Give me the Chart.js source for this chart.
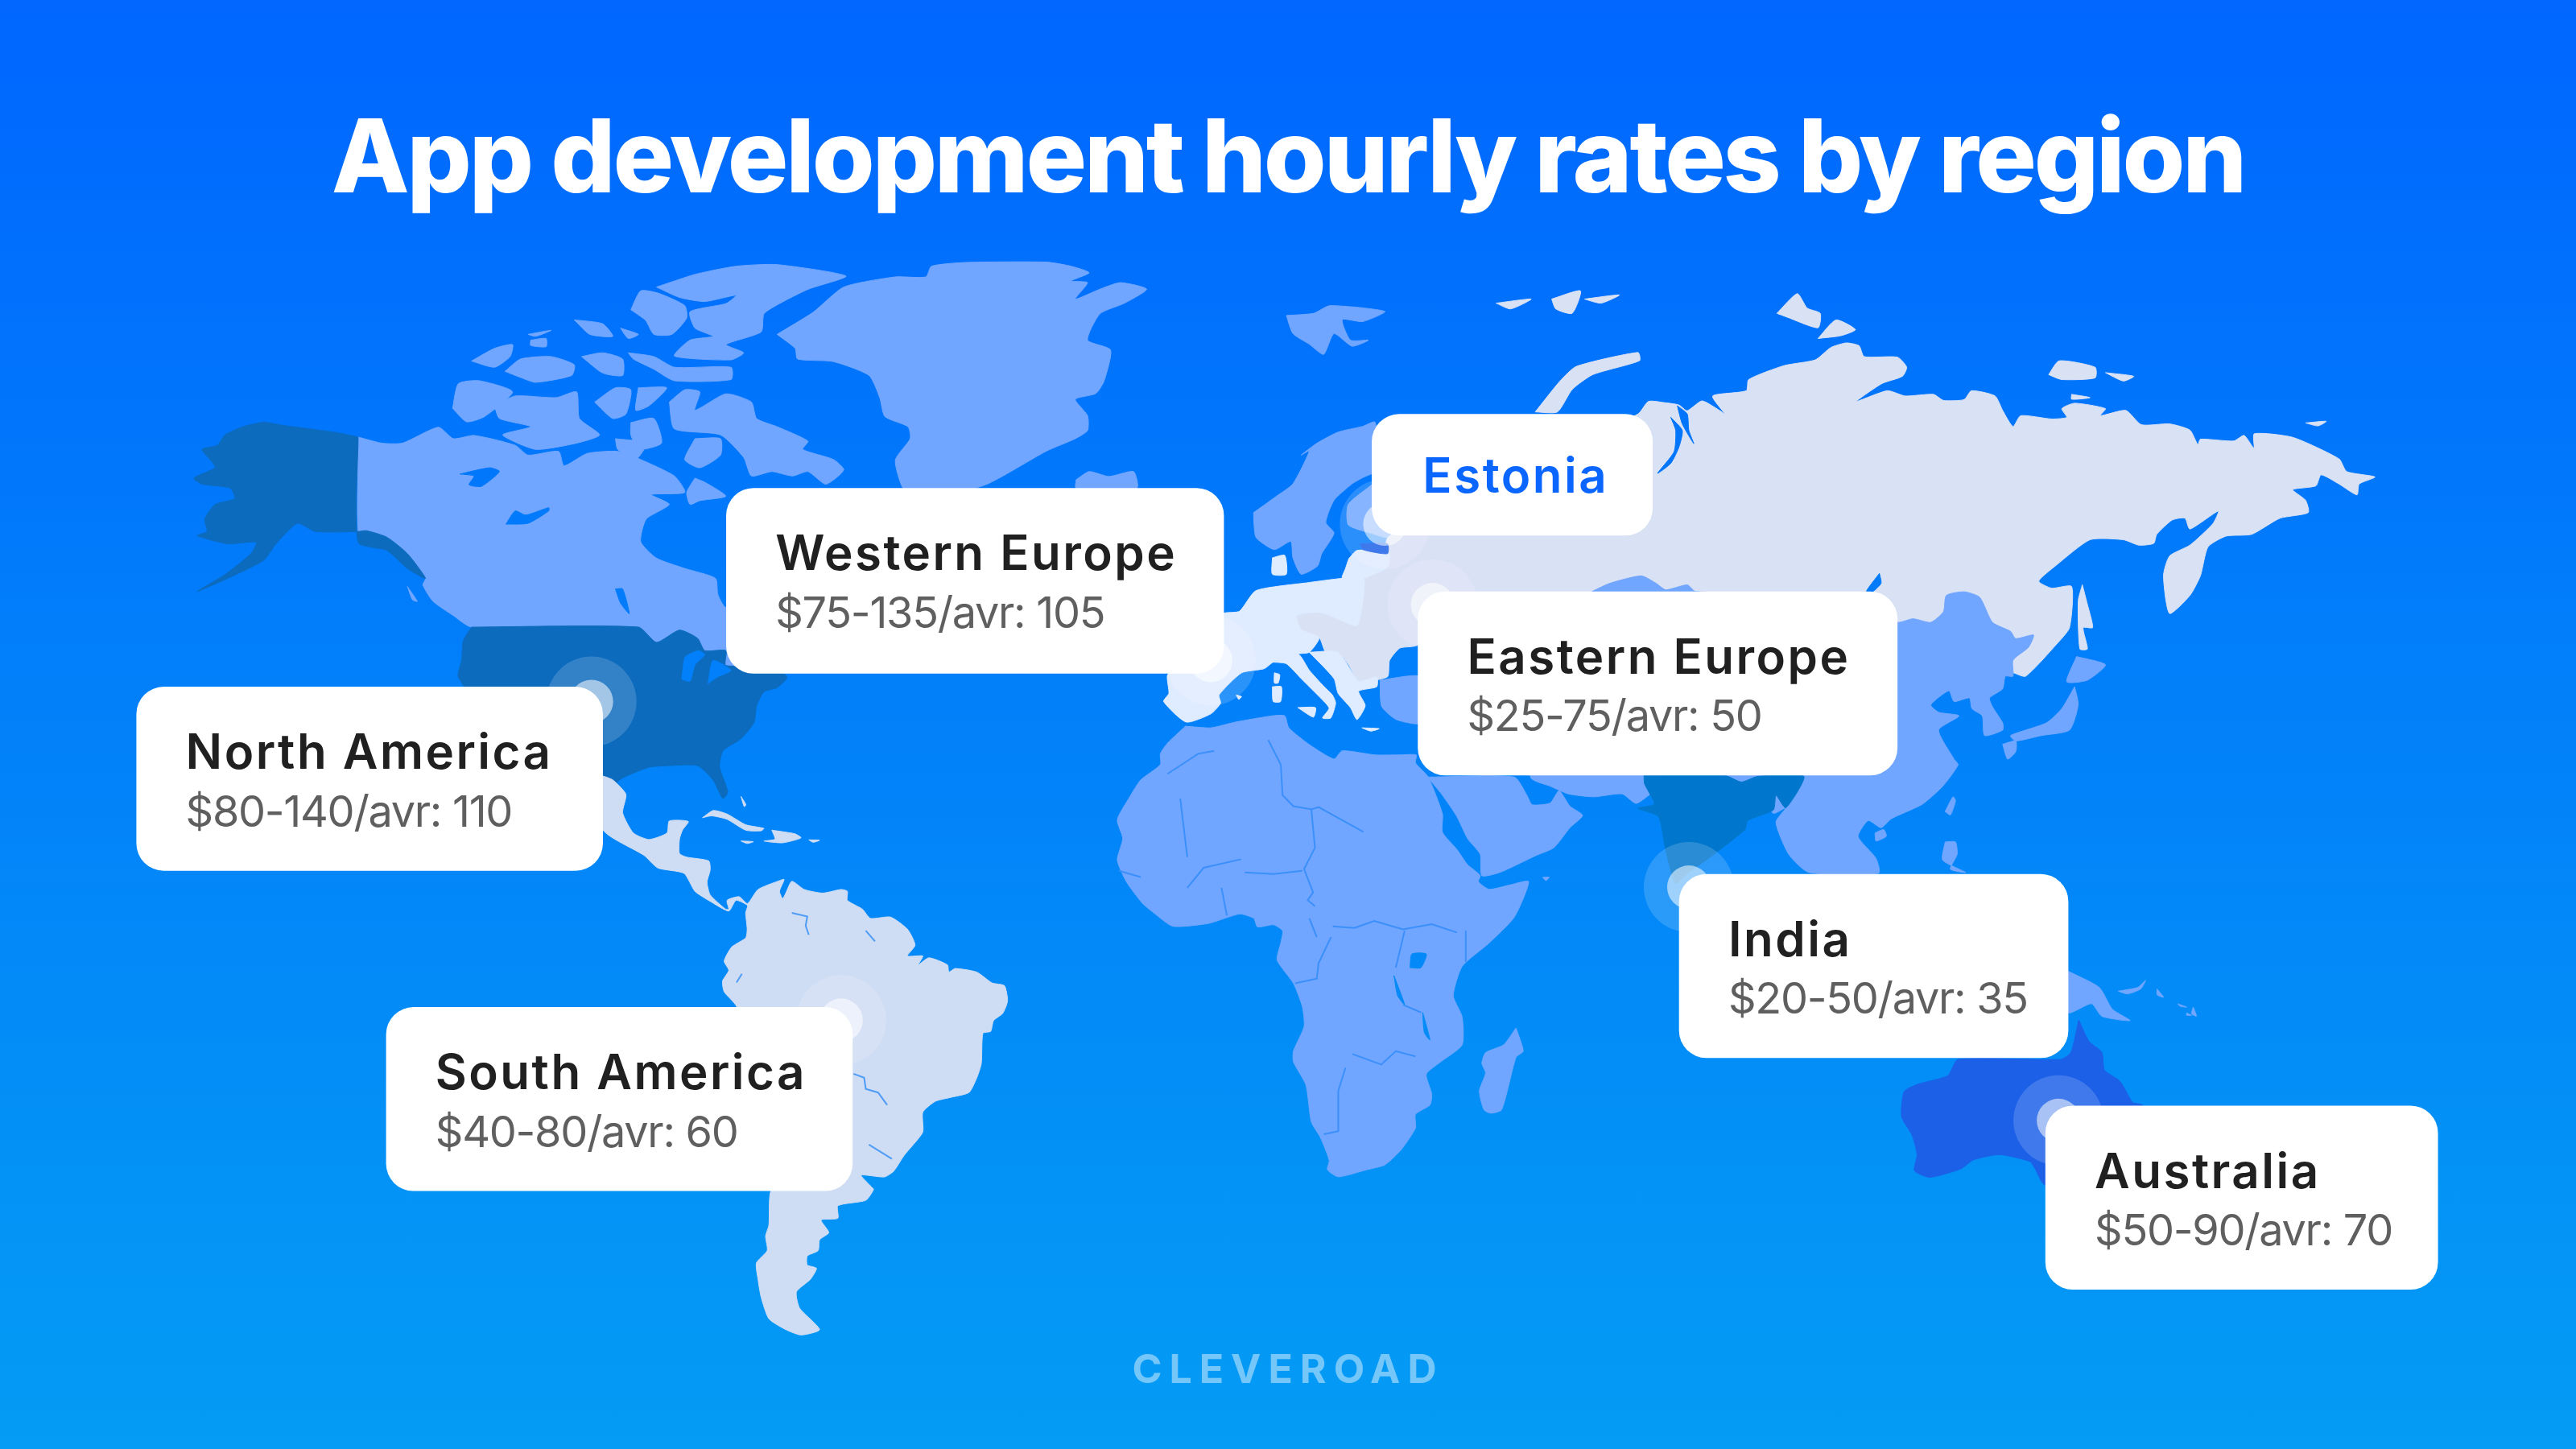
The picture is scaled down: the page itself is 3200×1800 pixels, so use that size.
<!DOCTYPE html>
<html>
<head>
<meta charset="utf-8">
<title>App development hourly rates by region</title>
<script src="https://cdn.jsdelivr.net/npm/chart.js@4/dist/chart.umd.js"></script>
<style>
  html, body { margin: 0; padding: 0; }
  #wrap { width: 3200px; height: 1800px; background: linear-gradient(180deg, #0066ff 0%, #049cf4 100%); }
  canvas { display: block; }
</style>
</head>
<body>
<div id="wrap"><canvas id="graph" width="3200" height="1800"></canvas></div>
<script>
// rates
var regionNames = ['Western Europe', 'Eastern Europe', 'North America', 'South America', 'India', 'Australia'];
var rateLow = [75, 25, 80, 40, 20, 50];
var rateHigh = [135, 75, 140, 80, 50, 90];
var rateAvg = [105, 50, 110, 60, 35, 70];

// where the pins sit on the map, same order as regionNames, Estonia last
var pinX = [737, 872, 360, 512, 1028, 1253, 843];
var pinY = [402, 368, 427, 621, 540, 682, 319];

// land outlines, x / y in map units (1568 x 882)
var alaska = [[218,266],[206,263.5],[188.6,261],[173,259],[160.5,257],[148,259.7],[137,264.7],[132.4,271],[123,273.5],[129,281],[131,284.7],[118,291],[123,294.7],[140,297],[143,303.5],[131,307],[124.6,316],[126,323.5],[120,326],[138.6,331],[156,330],[152.7,337],[137,349.7],[120,360],[138.6,352],[160.5,341],[168,331],[181,318.5],[192,323.5],[218,323.5],[223,323],[235.5,327],[248,337],[259,352],[248,346],[235.5,335],[218,330]];
var canada = [[218,266],[232.4,269.7],[245,269.7],[266.8,260],[276,267],[288.6,265],[313.6,271],[321.4,277],[340,274.7],[343.3,283.5],[357.4,276],[376,274.7],[390,279.7],[410.5,289.7],[416.8,299.7],[396.4,301],[407.4,307],[393.3,316],[390,329.7],[399.6,339.7],[416.8,346],[435.5,352],[437,362],[441.8,369.7],[470,370],[470,405],[441.8,405],[441.8,396],[429,396],[424.6,388.5],[413.6,383.5],[399.6,391],[388.6,381.7],[287,381.7],[276,374.7],[263.6,366],[257.4,356],[259,352],[248,337],[235.5,327],[223,323],[218,323.5]];
var usa = [[287,381.7],[388.6,381.7],[399.6,391],[413.6,383.5],[424.6,388.5],[429,396],[441.8,396],[441.8,405],[470,405],[479,412.2],[473,418.5],[465,421],[460.5,429.7],[459,439.7],[451,449.7],[440,457],[438,467],[443,482],[440,486],[434,474.7],[424.6,466],[407.4,466],[395,467],[379,473.5],[370,479.7],[366.8,473.5],[300,440],[279,412],[281,402],[282,390]];
var latinAmerica = [[366.7,472.2],[373,474.7],[381,483.5],[379,494.7],[385.5,507],[395,511],[406,507],[407.4,499.7],[419,500],[415.4,505.3],[413.6,510.8],[413.6,519.5],[418,521.7],[431.4,524],[432.3,529.4],[430.4,537],[432.3,544.7],[441.7,553.4],[443.6,553.4],[442.6,548],[450,545.8],[455,550],[461.4,541.4],[474.5,536],[477.3,535.3],[474.5,542.5],[476.4,546.9],[478.3,543.6],[482,536.4],[489.5,541.4],[500.8,543.6],[512,541.4],[515.8,542.5],[515.8,548],[525,553.4],[529.8,559],[542,558.2],[552.3,565.5],[557,575.3],[552.3,581.9],[561.7,581.9],[558.9,587.3],[565.4,583],[576.7,587.3],[577.6,591.7],[581.4,589.5],[594.5,591.7],[603.9,598.3],[611.4,600],[613.3,609.2],[610.4,616.8],[604.8,621.2],[603,627.8],[598.3,628.9],[597.3,647.5],[594.5,656.2],[589.8,665],[577.6,668.2],[569.2,670.4],[561.7,677],[561.7,689],[555,697.8],[550.4,703.2],[543.9,713],[538.3,716.4],[524.2,715.3],[529.8,721.8],[531.7,724],[527,730.6],[510,733.9],[510,741.5],[499.8,742.6],[504.5,750.3],[498.9,754.6],[498,761.2],[491.4,764.5],[491.4,770],[497,772],[493.3,778.7],[484.8,786.3],[486.7,796.2],[498.9,809.3],[487.6,812.6],[478.3,809.3],[468,802.7],[463.3,789.6],[461.4,778.7],[460.4,768.8],[467,761.2],[466,752.4],[468,745.9],[468.9,726],[480,700],[448.3,612.5],[440.8,603.7],[439.8,597.2],[443.6,590.6],[440.8,585],[445.4,576.4],[453.9,570.9],[454.8,565.5],[453.9,555.6],[455,551.2],[448,548],[443.6,554.5],[432.3,548.6],[423,542.5],[416.4,531.6],[400.4,528.3],[392,520.6],[367,505]];
var greenland = [[473,203.5],[495,190],[513.6,174.7],[545,168.5],[563.6,168.5],[567,162],[588,159.7],[637,159.5],[652,162],[663,166],[652,171],[662,172],[654.5,182],[669.5,176],[682,172],[698,176],[684.5,184.5],[669.5,191],[662,207],[676,213],[672,232],[667,239.5],[654.5,243],[662,253],[662,262],[654.5,267],[637,274.5],[600,295],[560,305],[549.6,297],[545,280],[554,267],[552.7,259.7],[538.6,253.5],[535.5,242],[529,228.5],[507,220],[485.5,218.5],[484,212]];
var ellesmere = [[399.6,174.7],[423,167],[448,162],[473,161],[515,168],[492,176],[474.6,184.7],[465,191],[463.3,202],[442,209.7],[452.7,214.7],[445,219],[410.5,216.7],[420,207],[434,204.7],[423,199.7],[420,189.7],[442,184.7],[448,179.7],[429,183.5],[413.6,181]];
var axelHeiberg = [[384,188.5],[390,177],[401,178.5],[416.8,186],[418,193.5],[409,203.5],[398,203.5],[393,195]];
var devon = [[382.4,214.7],[398,217],[410.5,223.5],[445,223.5],[445,231],[410.5,231.7],[398,224.7],[385.5,218.5]];
var banksUpper = [[287,219.7],[301,212],[312,209.7],[310.5,217],[301,223.5]];
var melville = [[307.4,226],[316.8,218.5],[335.5,217],[349.6,222],[348,228.5],[326,232.7],[316.8,229.7]];
var bathurst = [[354,217],[366.8,214.7],[379,218.5],[379,228.5],[366.8,227]];
var ringnes = [[349.6,194.7],[366.8,197],[373,204.7],[359,203.5]];
var cornwall = [[377.7,199.7],[388.6,203.5],[382.4,206]];
var prinz = [[321.4,203.5],[335.5,201],[326,204.7]];
var mackenzie = [[323,207],[332.4,206],[332.4,211],[323,210.2]];
var banks = [[275.5,248.5],[279,233.5],[291.7,231.7],[312,238.5],[295,253.5],[284,256.7]];
var victoria = [[301,247],[313.6,241],[338.6,242],[351,238.5],[352.7,254.7],[365,264.7],[351,269.7],[326,273.5],[306,264.7],[323,259.7],[304,254.7]];
var princeOfWales = [[362,244.7],[374.6,236],[384,237.2],[381,252],[373,254.7]];
var somerset = [[388.6,236],[405.8,236],[395,247],[387,249.7]];
var boothia = [[384,257.2],[398,254.7],[402.7,269.7],[388.6,273.5],[384,264.7]];
var kingWilliam = [[374.6,267],[393.3,269.7],[387,279.7],[376,273.5]];
var baffin = [[407.4,244.7],[416.8,237.2],[426,238.5],[423,249.7],[441.8,239.7],[457.4,244.7],[460.5,254.7],[473,259.7],[491.8,268.5],[488.6,273.5],[507.4,279.7],[513.6,286],[502.7,294.7],[491.8,287],[482.4,289.7],[469.8,287],[457.4,289.7],[452.7,278.5],[438.6,264.7],[410.5,261]];
var foxe = [[423,267],[438.6,267],[438.6,277],[426,284.7],[416.8,279.7]];
var southampton = [[423,291],[429,293.5],[441.8,302],[426,304.7],[420,307],[418,299.7]];
var vancouver = [[248,357],[254,366],[251,365]];
var cuba = [[427.6,497.7],[434.2,493.3],[442.6,495.5],[453.9,502],[465,504.2],[463.3,505.7],[453.9,505.3],[442.6,498.7],[433.3,496.6]];
var hispaniola = [[469.8,505.3],[483.9,507.5],[487.6,510],[476.4,513],[465,511.9],[471.7,510.8]];
var jamaica = [[451,511.9],[458.6,512.3],[454.8,513.4]];
var puertoRico = [[492.3,511.2],[498.9,511.4],[495,512.7]];
var bahamas = [[451,484.7],[454,489.7],[453,491]];
var africa = [[721.6,442],[737,443],[752,439.5],[774.5,435.7],[782,435.7],[784.5,443],[797,453.2],[812,462],[817,457],[837,459.5],[852,459.5],[862,459.5],[861.6,464.4],[869.3,472.9],[878,495.4],[878,506.6],[886.8,517],[893.3,526.3],[901,532.9],[899.9,536.6],[906.4,541.3],[919.6,538.5],[930.5,536.6],[921.8,558.2],[906.4,574],[890,588.2],[884.6,606],[890,619],[890,636],[877,646.3],[868.2,653.8],[871.5,666],[870.4,672.6],[861.6,678.2],[861.6,686.6],[852.9,699.8],[843,709],[832,712],[814.6,716.3],[808,712],[809.1,706.3],[803.7,692.3],[798.2,682.9],[794.9,660.4],[787.3,646.3],[787.3,639.8],[793.8,624.8],[792.7,612.6],[787.3,598.5],[777.4,584.4],[779.6,574],[780.7,566.6],[775.2,562.9],[765.4,564.2],[763.2,559],[754.5,556.3],[735.9,562],[714,563.8],[702,555.4],[695.4,549.8],[685.6,536.6],[680.1,523.5],[683.4,510.4],[680.1,499],[687.7,485],[694.3,474.8],[706.3,465.4],[706.3,458.8],[710.7,452.3]];
var madagascar = [[922.8,625.7],[927.2,639.8],[922.8,643.5],[914.1,675.4],[907.5,677.6],[903.2,675.4],[900.5,664],[904.3,653],[902,647.3],[904.3,640.7],[915.2,636]];
var arabia = [[869,473],[878,484],[886.8,497],[893.3,510.4],[901,520],[902,533],[913,531],[935,520.7],[945.8,516],[955.6,503.8],[963.3,496.3],[955.6,490.7],[949,481.3],[943.6,488.8],[932.6,489.8],[929.4,484],[921.7,473]];
var turkey = [[840,414],[865,412],[865,440],[850,438],[841,430]];
var asia = [[969,360],[980,355],[999,350.5],[1008,355],[1014,359],[1027,356],[1032,360],[1100,362],[1155,378.8],[1164.4,376.6],[1175.3,378.8],[1183,372.3],[1184.7,362.4],[1195.6,360.2],[1205,363.5],[1212.8,378.8],[1223.8,384.3],[1226.9,388.7],[1237.8,386.5],[1234.7,394],[1225.3,401.8],[1225.3,411.6],[1220.6,411.6],[1219,419.3],[1211,424.8],[1212.8,430.2],[1219,440],[1219,444.4],[1208,447.7],[1206.6,435.7],[1200.3,431.3],[1198.8,424.8],[1189.4,427],[1186.3,420.4],[1175.3,429],[1180,433.5],[1192.5,435.7],[1180,444.4],[1189.4,462],[1191.9,465.5],[1182.5,478.6],[1170,489.6],[1151.3,498.3],[1145,503.8],[1137.2,499.4],[1131,509.2],[1141.9,522.4],[1143.5,531.5],[1101,531],[1088.8,520],[1081,500.5],[1087,491.7],[1079.4,495],[1068.5,480.8],[1040,480],[1010,480],[996,489],[987.4,483.2],[970,485],[954.6,483.2],[943.6,478.5],[931.6,473],[931,400],[969,400]];
var russia = [[900,300],[997,252],[1003.4,244.3],[1012.8,245],[1022,246.5],[1027,250],[1036,244],[1047,250],[1050,252],[1042.5,241],[1063,237.8],[1064.4,231],[1086,222.5],[1105,219],[1114.4,211.5],[1123.8,208.7],[1131.6,210.4],[1134.7,217],[1155,217.4],[1160.6,223.5],[1158,229],[1145.6,233.4],[1130,244.3],[1148.8,237.8],[1159.7,241],[1176.9,240],[1183,243.7],[1195.6,243.2],[1200,237.8],[1214.4,241],[1219,249.8],[1225.3,259.6],[1230,253],[1248.8,255],[1258,254],[1255,248.7],[1262.8,245.4],[1281.6,248.7],[1278.4,253],[1294,249.8],[1303.4,258.5],[1320.6,258],[1333,261.8],[1337.8,270.6],[1339.4,267.3],[1359.7,268.4],[1366,265],[1372,272.8],[1372.2,264],[1395.6,266.2],[1423.8,279.3],[1428.4,287],[1445.6,290.3],[1436,294.6],[1434.7,301.2],[1423.8,294.6],[1412.8,289],[1409.7,295.7],[1395.6,298],[1403.4,304.5],[1405,312],[1387.8,315.4],[1370.6,325.2],[1355,326.3],[1344,332.9],[1339.4,350.4],[1333,362.4],[1320.6,373.4],[1316.9,350.4],[1320.6,338.4],[1333,331.8],[1347,318.7],[1350.3,311],[1333,322],[1330,315.4],[1322.2,316.5],[1312.8,325.2],[1311,330.7],[1301.9,331.8],[1292.5,328.5],[1272.2,328.5],[1251.9,343.8],[1241,353.7],[1248.8,358],[1261,357],[1259.7,382],[1251.9,392],[1233,411.6],[1225.3,409.4],[1180,400],[880,400],[865,360],[845,345],[845,327]];
var easternEurope = [[845,327],[845,345],[830,352],[829,370],[825.8,381],[804.5,373],[789.5,374.5],[792,383],[803,388],[807,397],[814.5,397],[820.8,404.5],[827,414.5],[844.5,412],[845.8,402],[852,394.5],[862,393],[880,380],[880,327]];
var westernEurope = [[797,354.5],[764.5,359.5],[754.5,372],[745.8,373],[720,380],[720,405],[710.7,410.7],[711.5,422],[708.3,427],[722,439.5],[737,434.5],[743,428],[742,423],[755.8,409.5],[769.5,407],[775,403],[790,398],[797,397],[803,388],[792,383],[789.5,374.5],[804.5,373],[825.8,381],[829,370],[830,352],[817,352]];
var italy = [[775,403],[783,404],[792,413],[803,424],[809,431],[805,437],[810,437],[813,428],[811,423],[806,418],[797,408],[790,398]];
var corsica = [[775.7,409.5],[779,410.7],[778,415.7],[775.7,415.7]];
var sardinia = [[774.5,418],[780,418],[779.5,427],[775,427]];
var sicily = [[790,430.7],[800.7,430.7],[799.5,436.5]];
var crete = [[829,443],[839.5,443.5],[834.5,445]];
var balearic = [[752.5,423],[755.7,424],[754,425.7]];
var greece = [[797,397],[814.5,397],[827,414.5],[838,412],[838,418],[827,420.7],[831,429.5],[826,438],[822,430.7],[814.5,422],[812,413]];
var baltics = [[821,340],[826,335],[845,336],[845,345],[830,352],[817,352],[819,346]];
var denmark = [[774.5,339.5],[782,338],[783,349.5],[774.5,349.5]];
var estonia = [[828,331],[844.5,331],[844.5,337],[829.5,334.5]];
var scandinavia = [[763,312],[777,302],[787,294.5],[797,274.5],[792,277],[802,269.5],[814.5,263],[829.5,259.5],[837,257],[840,285],[829.5,290.7],[823,294.5],[812,304.5],[807,318],[812,324.5],[804.5,337],[802,344.5],[792,349.5],[787,339.5],[785.7,329.5],[775.7,334.5],[764.5,327]];
var finland = [[835.7,294.5],[820.7,307],[820.7,319.5],[834.5,324.5],[847,327],[850,290]];
var iceland = [[655,292],[663,287],[675,290],[690,287],[692,297],[655,297]];
var svalbard = [[783,192],[799.5,190.7],[809.5,186],[843,189.5],[829.5,195.7],[817,194.5],[822,207],[833,207],[823,210.7],[812,203],[805.7,215.7],[797,209.5],[787,203]];
var franzJosefA = [[910.7,184.5],[932,182],[919.5,188]];
var franzJosefB = [[944.5,182],[962,177],[957,190.7],[947,188]];
var franzJosefC = [[964.5,182],[985.7,179.5],[974.5,184.5]];
var novayaZemlya = [[934.5,250.7],[949.5,232],[959.5,223],[997,214.5],[998,219.5],[969.5,228],[957,237],[948,250.7]];
var severnayaA = [[1081.6,190.7],[1094,178.7],[1100,187.5],[1108,190.7],[1106.6,199.5],[1087.8,193]];
var severnayaB = [[1106.6,206],[1117.5,194.7],[1129.4,200.6],[1120.6,204.3]];
var siberianA = [[1247,228],[1253.4,219.6],[1275.3,223.5],[1275.3,230],[1255,231]];
var siberianB = [[1281.6,226.8],[1298.8,229],[1292.5,231.9]];
var siberianC = [[1261,240],[1272.2,242],[1261,243]];
var wrangel = [[1403.4,257.4],[1416,256.4],[1411,259.2]];
var sakhalin = [[1267.5,355.9],[1270.6,367.9],[1273.8,382],[1268,382],[1270.6,395],[1266,395],[1265,365.7]];
var hokkaido = [[1264,399.6],[1281.6,404.6],[1270.6,414],[1258,415]];
var honshu = [[1262.8,418],[1265,429],[1259.7,444.4],[1242.5,447.7],[1227,451],[1223.8,447.7],[1245.6,440],[1255,431.3]];
var kyushu = [[1219,453],[1227,451],[1227,457.5],[1222,462]];
var taiwan = [[1184,494],[1188.8,485],[1190.3,487.4],[1187.2,496]];
var philippines = [[1184,512.5],[1190.3,512.5],[1191.3,520],[1187.2,529],[1196.6,531],[1182.5,523.5]];
var hainan = [[1141.3,507],[1146.6,504.9],[1148.2,509],[1141.9,511.9]];
var newGuinea = [[1259,591.2],[1277.8,601],[1285.7,614.2],[1296.6,621.2],[1279.4,618.6],[1273.1,610.9],[1259,616.4]];
var newBritain = [[1289.4,603.3],[1301.3,601],[1306,596.7],[1303,602],[1295,605]];
var solomonA = [[1313,602],[1317,607],[1313,605.5]];
var solomonB = [[1325.6,611],[1331,613],[1327,612.5]];
var solomonC = [[1335,613],[1337,618.5],[1334,617]];
var solomonD = [[1331,616.5],[1334,618],[1331,618]];
var socotra = [[939,534],[943,534],[941,536]];
var india = [[1000.7,472],[1001,477],[1007,489.5],[997,492],[1009.5,497],[1013.8,517],[1020,537.7],[1027.8,531],[1040,522.4],[1062.2,504.9],[1063.8,499.4],[1079.4,493],[1081,484],[1087,491.7],[1098,472.5],[1070,472.5],[1060,476],[1050,472]];
var australia = [[1265.3,620.8],[1271.6,633.9],[1279.4,640.5],[1281,651.4],[1290.3,658],[1298.2,671],[1304.4,673],[1300,715],[1245,721.4],[1238.8,711.5],[1235.6,707],[1217,702.8],[1201.3,706],[1193.5,711.5],[1174.7,716.6],[1165.3,712.6],[1166.9,702.8],[1163.8,690.8],[1157.5,679.8],[1159,664.5],[1166.9,660.1],[1185.7,654.7],[1191.9,644.8],[1254.4,644.8],[1260.6,640.5]];

// lakes and inlets
var bearLake = [[280,288.5],[298,284.7],[304,287],[293,296],[285.5,295],[288.6,289.7]];
var slaveLake = [[308,319],[313.6,311],[320,313.5],[334,309],[334,311],[321.4,318.5]];
var winnipeg = [[374.6,358.5],[379,358.5],[383,373.5],[377.7,367]];
var michigan = [[415,413.4],[417,400],[425,396],[429,398.5],[423,404.7],[420,414.7]];
var huron = [[431,416],[434,402],[445,408],[437,412]];
var obGulf = [[1021,247],[1024,258],[1031,270],[1028,262],[1027,252]];
var yenisei = [[1017,254],[1020,262],[1019,275],[1009,288],[1017,282],[1022,272],[1024,262]];
var baikal = [[1144,349],[1145,355],[1140,360],[1136,360]];
var victoriaLake = [[858.3,589],[859.4,580.7],[868.2,580.7],[864.9,589]];
var tanganyika = [[848.5,593.8],[855,611.6],[850.7,606]];
var malawi = [[866,616.3],[870.4,633],[867,628.5]];

// thin borders and rivers
var africaBorders = [
  [[772,450.4],[779.6,465.4],[780.7,484],[787.3,490.7],[798.2,492.6],[800.4,516],[793.8,529],[799.3,543.2],[796,547.9],[800.4,551.6]],
  [[798.2,492.6],[802.6,491.3],[829.9,506.3]],
  [[811.3,563.8],[824.4,564.8],[836.5,560.6],[854,565.7],[871.5,562.5],[886.8,567.6]],
  [[710.7,471],[729.3,458.8],[739.1,457]],
  [[718.4,486],[722.7,521.6]],
  [[681.2,530],[694.3,533.8]],
  [[722.7,540.4],[732.6,528.2],[755.5,523]],
  [[757.7,531],[775.2,532],[792.7,530]],
  [[743.5,540.4],[746.8,557.3]],
  [[855,566.6],[849.6,589]],
  [[892.2,566.6],[892.2,585.4]],
  [[797,559],[801.5,570.4]],
  [[810.2,570.4],[802.6,586.3],[801.5,595.7],[788.3,598.5]],
  [[819,650],[814.6,664],[814.6,688.5],[805.8,690.4]],
  [[823.3,641.6],[840.8,648],[849.6,639.8],[861.6,643]],
  [[854,611.6],[865,616.3]]
];
var southAmericaRivers = [
  [[482,555.6],[491.4,557.8],[490.4,563.5],[492.3,569]],
  [[527,566.5],[532.6,573]],
  [[519.5,653.6],[526,656],[527,662.8],[534.5,665],[540,672.6]],
  [[528.9,696.7],[542.9,705.4]],
  [[448.3,598],[451.6,592.8]]
];

// cards, map units
var cardLabels = ['Western Europe', 'Eastern Europe', 'North America', 'South America', 'India', 'Australia'];
var cardLeft = [442, 863, 83, 235, 1022, 1245];
var cardTop = [297, 360, 418, 613, 532, 673];
var cardRight = [745, 1155, 367, 519, 1259, 1484];
var cardBottom = [410, 472, 530, 725, 644, 785];

var SKY = '#70a6ff';
var PALE = '#d9e1f5';
var PALE_SOUTH = '#cedcf4';
var PALEST = '#dfebff';
var USA_BLUE = '#0c6bbd';
var INDIA_BLUE = '#0077cc';
var ROYAL = '#1c60e8';

var datasets = [];

function toPoints(list) {
  return list.map(function (p) { return { x: p[0], y: p[1] }; });
}

function addShape(list, color) {
  var pts = toPoints(list);
  pts.push(pts[0]);
  datasets.push({
    data: pts,
    showLine: true,
    fill: 'shape',
    backgroundColor: color,
    borderColor: color,
    borderWidth: 1,
    borderJoinStyle: 'round',
    tension: 0.2,
    pointRadius: 0,
    order: -datasets.length
  });
}

function addLine(list, color, width) {
  datasets.push({
    data: toPoints(list),
    showLine: true,
    fill: false,
    borderColor: color,
    borderWidth: width,
    pointRadius: 0,
    order: -datasets.length
  });
}

// colour of the background gradient at a map y, used for lakes
function waterAt(y) {
  var t = y / 882;
  var g = Math.round(0x66 + (0x9c - 0x66) * t);
  var b = Math.round(0xff + (0xf4 - 0xff) * t);
  var r = Math.round(4 * t);
  return 'rgb(' + r + ',' + g + ',' + b + ')';
}

[canada, greenland, ellesmere, axelHeiberg, devon, banksUpper, melville, bathurst, ringnes, cornwall, prinz, mackenzie,
 banks, victoria, princeOfWales, somerset, boothia, kingWilliam, baffin, foxe, southampton, vancouver,
 africa, madagascar, arabia, turkey, scandinavia, finland, iceland, svalbard, hokkaido, honshu, kyushu, taiwan,
 philippines, hainan, newGuinea, newBritain, solomonA, solomonB, solomonC, solomonD, socotra
].forEach(function (s) { addShape(s, SKY); });

addShape(alaska, USA_BLUE);
addShape(usa, USA_BLUE);

[latinAmerica, cuba, hispaniola, jamaica, puertoRico, bahamas].forEach(function (s) { addShape(s, PALE_SOUTH); });

[russia, novayaZemlya, franzJosefA, franzJosefB, franzJosefC, severnayaA, severnayaB, siberianA, siberianB, siberianC,
 wrangel, sakhalin, easternEurope
].forEach(function (s) { addShape(s, PALE); });

addShape(asia, SKY);
[westernEurope, italy, corsica, sardinia, sicily, crete, balearic, greece, baltics, denmark].forEach(function (s) { addShape(s, PALEST); });
addShape(estonia, ROYAL);
addShape(india, INDIA_BLUE);
addShape(australia, ROYAL);

[bearLake, slaveLake, winnipeg, michigan, huron, obGulf, yenisei, baikal, victoriaLake, tanganyika, malawi].forEach(function (s) {
  addShape(s, waterAt(s[0][1]));
});

africaBorders.forEach(function (l) { addLine(l, '#3a8ffb', 2); });
southAmericaRivers.forEach(function (l) { addLine(l, '#4f9cf6', 2); });

// pins: wide halo, then the inner dot
var pinPoints = pinX.map(function (x, i) { return { x: x, y: pinY[i] }; });
datasets.push({ data: pinPoints, pointRadius: 56, pointBorderWidth: 0, pointBackgroundColor: 'rgba(255,255,255,0.16)', order: -1000 });
datasets.push({ data: pinPoints, pointRadius: 27, pointBorderWidth: 0, pointBackgroundColor: 'rgba(255,255,255,0.55)', order: -1001 });

var cardsPlugin = {
  id: 'cards',
  beforeDraw: function (chart) {
    chart.ctx.letterSpacing = '-3.2px';
  },
  afterDatasetsDraw: function (chart) {
    var ctx = chart.ctx;
    var xs = chart.scales.x;
    var ys = chart.scales.y;
    ctx.save();
    ctx.textAlign = 'left';
    ctx.textBaseline = 'alphabetic';

    function card(l, t, r, b) {
      ctx.fillStyle = '#ffffff';
      ctx.beginPath();
      ctx.roundRect(xs.getPixelForValue(l), ys.getPixelForValue(t),
        xs.getPixelForValue(r) - xs.getPixelForValue(l), ys.getPixelForValue(b) - ys.getPixelForValue(t), 34);
      ctx.fill();
    }

    cardLabels.forEach(function (name, i) {
      var k = regionNames.indexOf(name);
      card(cardLeft[i], cardTop[i], cardRight[i], cardBottom[i]);
      var tx = xs.getPixelForValue(cardLeft[i] + 30);
      ctx.letterSpacing = '2.5px';
      ctx.font = '600 60px Inter';
      ctx.fillStyle = '#202020';
      ctx.fillText(name, tx, ys.getPixelForValue(cardTop[i] + 50));
      ctx.letterSpacing = '-1.3px';
      ctx.font = '400 54px Inter';
      ctx.fillStyle = '#5f5f5f';
      ctx.fillText('$' + rateLow[k] + '-' + rateHigh[k] + '/avr: ' + rateAvg[k], tx, ys.getPixelForValue(cardTop[i] + 85));
    });

    // Estonia has a name only
    card(835, 252, 1006, 326);
    ctx.letterSpacing = '2.5px';
    ctx.font = '600 60px Inter';
    ctx.fillStyle = '#0b66ff';
    ctx.fillText('Estonia', xs.getPixelForValue(866), ys.getPixelForValue(300));

    ctx.textAlign = 'center';
    ctx.letterSpacing = '9px';
    ctx.font = '700 50px Inter';
    ctx.fillStyle = 'rgba(255,255,255,0.45)';
    ctx.fillText('CLEVEROAD', xs.getPixelForValue(784), ys.getPixelForValue(842));
    ctx.restore();
  }
};

var config = {
  type: 'scatter',
  data: { datasets: datasets },
  options: {
    responsive: false,
    devicePixelRatio: 1,
    animation: false,
    layout: { padding: 0, autoPadding: false },
    scales: {
      x: { display: false, min: 0, max: 1568 },
      y: { display: false, min: 150, max: 882, reverse: true }
    },
    plugins: {
      legend: { display: false },
      tooltip: { enabled: false },
      title: {
        display: true,
        text: 'App development hourly rates by region',
        color: '#ffffff',
        font: { family: 'Inter', size: 126, weight: '800', lineHeight: 1.2 },
        padding: { top: 126, bottom: 29 }
      }
    }
  },
  plugins: [cardsPlugin]
};

var myChart = new Chart(document.getElementById('graph'), config);
</script>
</body>
</html>
